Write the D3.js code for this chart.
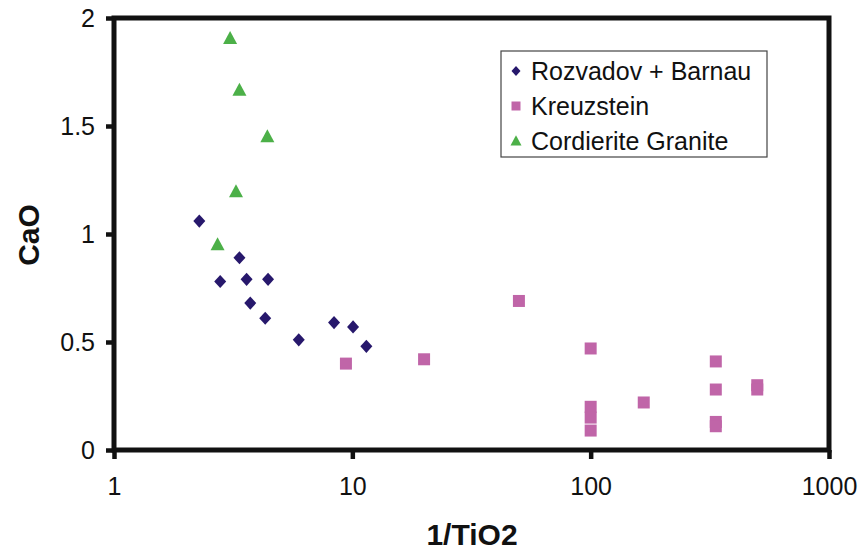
<!DOCTYPE html>
<html><head><meta charset="utf-8">
<script src="https://cdn.jsdelivr.net/npm/d3@7"></script>
<style>body{margin:0;background:#fff;} svg{display:block;font-family:Arial,"Liberation Sans",sans-serif;}</style>
</head><body>
<svg id="chart" width="865" height="554"></svg>
<script>
// Data
const seriesNames = ["Rozvadov + Barnau", "Kreuzstein", "Cordierite Granite"];
const rbX = [2.28, 2.79, 3.36, 3.60, 4.43, 3.73, 4.31, 5.96, 8.38, 10.07, 11.45];
const rbY = [1.06, 0.78, 0.89, 0.79, 0.79, 0.68, 0.61, 0.51, 0.59, 0.57, 0.48];
const krX = [9.4, 20, 50, 100, 100, 100, 100, 167, 335, 335, 335, 335, 500, 500];
const krY = [0.40, 0.42, 0.69, 0.47, 0.20, 0.15, 0.09, 0.22, 0.41, 0.28, 0.13, 0.11, 0.30, 0.28];
const cgX = [3.07, 3.36, 4.40, 3.25, 2.72];
const cgY = [1.90, 1.66, 1.445, 1.19, 0.945];
const xTicks = [1, 10, 100, 1000];
const yTicks = [0, 0.5, 1, 1.5, 2];
const xTitle = "1/TiO2";
const yTitle = "CaO";

const colors = ["#27186c", "#c065a8", "#4cb048"];

const svg = d3.select("#chart");
const L = 114, R = 829, T = 18, B = 450;
const x = d3.scaleLog().domain([1, 1000]).range([L, R]);
const y = d3.scaleLinear().domain([0, 2]).range([B, T]);

// Symbols
function diamondPath(w, h) { return `M0,${-h}L${w},0L0,${h}L${-w},0Z`; }
function squarePath(s) { return `M${-s},${-s}H${s}V${s}H${-s}Z`; }
function trianglePath(w) { const h = w * 0.93; return `M0,${-h*2/3}L${w/2},${h/3}L${-w/2},${h/3}Z`; }
const shapes = [s => diamondPath(s, s * 1.1), s => squarePath(s), s => trianglePath(s)];

// Frame
svg.append("rect").attr("x", L).attr("y", T).attr("width", R - L).attr("height", B - T)
  .attr("fill", "none").attr("stroke", "#111").attr("stroke-width", 5);

// Axes
const xAxis = d3.axisBottom(x).tickValues(xTicks).tickFormat(d3.format("d")).tickSize(9).tickPadding(18);
const gx = svg.append("g").attr("transform", `translate(0,${B})`).call(xAxis);
gx.select(".domain").remove();
gx.selectAll("line").attr("stroke", "#111").attr("stroke-width", 4.5);
gx.selectAll("text").attr("font-size", 25).attr("fill", "#111");

const yAxis = d3.axisLeft(y).tickValues(yTicks).tickFormat(d => String(d)).tickSize(8).tickPadding(11);
const gy = svg.append("g").attr("transform", `translate(${L},0)`).call(yAxis);
gy.select(".domain").remove();
gy.selectAll("line").attr("stroke", "#111").attr("stroke-width", 4.5);
gy.selectAll("text").attr("font-size", 25).attr("fill", "#111");

// Titles
svg.append("text").attr("x", 472).attr("y", 545).attr("text-anchor", "middle")
  .attr("font-size", 30).attr("font-weight", "bold").attr("fill", "#111").text(xTitle);
svg.append("text").attr("transform", "translate(39,235) rotate(-90)").attr("text-anchor", "middle")
  .attr("font-size", 30).attr("font-weight", "bold").attr("fill", "#111").text(yTitle);

// Points
const series = [
  {xs: rbX, ys: rbY, size: 6},
  {xs: krX, ys: krY, size: 6},
  {xs: cgX, ys: cgY, size: 14}
];
series.forEach((s, i) => {
  svg.append("g").selectAll("path").data(s.xs.map((v, j) => [v, s.ys[j]])).join("path")
    .attr("transform", d => `translate(${x(d[0])},${y(d[1])})`)
    .attr("d", shapes[i](s.size))
    .attr("fill", colors[i]);
});

// Legend
const lg = svg.append("g");
lg.append("rect").attr("x", 501).attr("y", 51).attr("width", 266).attr("height", 106)
  .attr("fill", "#fff").attr("stroke", "#444").attr("stroke-width", 1.2);
const legSizes = [4.5, 4.5, 11];
const legY = [71, 106, 141];
seriesNames.forEach((n, i) => {
  lg.append("path").attr("transform", `translate(${516},${legY[i] + (i === 2 ? 1 : 0)})`)
    .attr("d", shapes[i](legSizes[i])).attr("fill", colors[i]);
  lg.append("text").attr("x", 531).attr("y", legY[i] + 9).attr("font-size", 25)
    .attr("fill", "#111").text(n);
});
</script>
</body></html>
